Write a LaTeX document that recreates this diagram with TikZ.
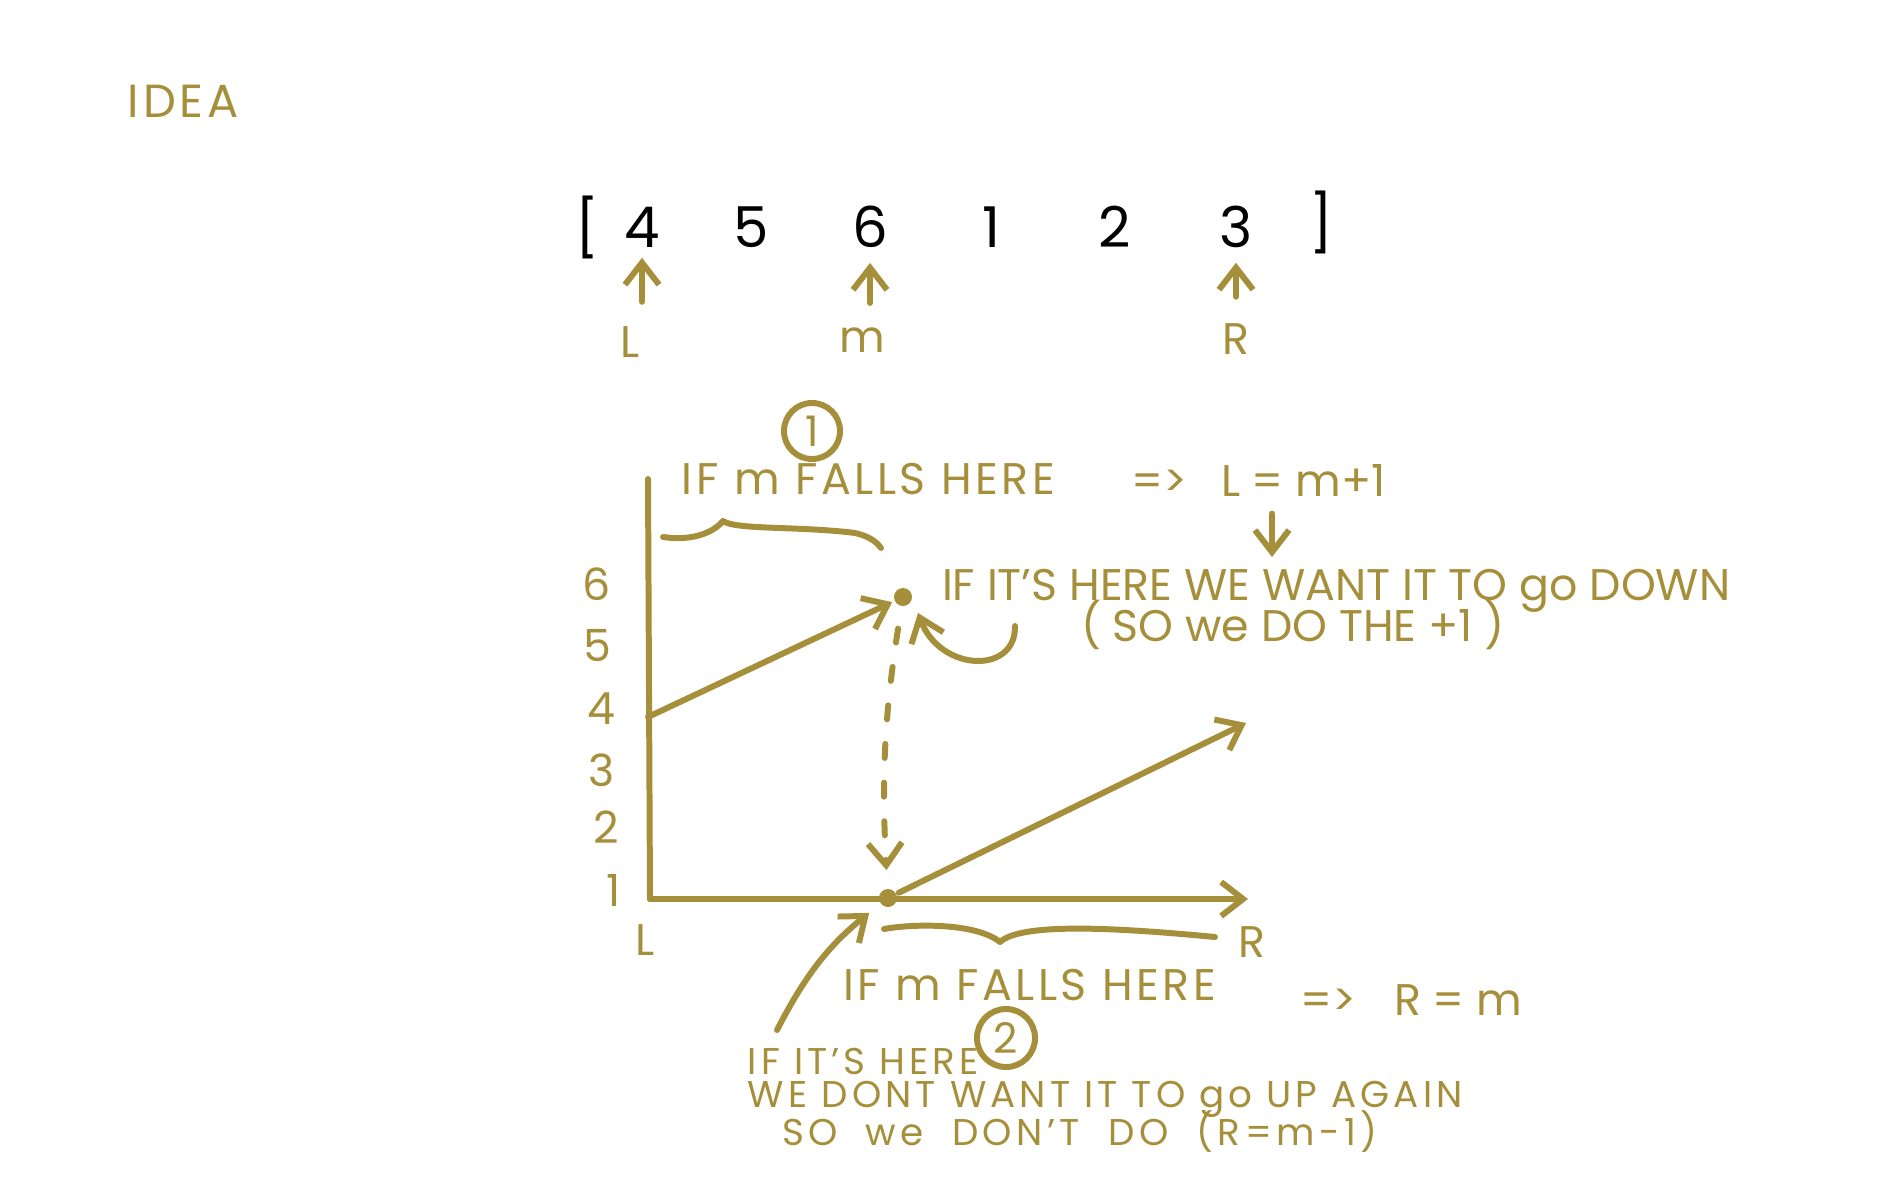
\documentclass[tikz,border=0pt]{standalone}
\usepackage{fontspec}
\setmainfont{Poppins}
\usetikzlibrary{
  arrows.meta,
  positioning,
  calc
}
\definecolor{pen}{RGB}{166,143,58}

\begin{document}
\begin{tikzpicture}[
      x=0.01cm, y=-0.01cm,
      line width=1.7pt, line cap=round, line join=round,
      >={Straight Barb[length=2.2mm,width=3.4mm]},
      note/.style={
         text=pen,
         inner sep=0pt,
         anchor=mid west,
         font=\fontsize{12.6}{15}\selectfont
      },
      spaced/.style={
         note,
         font=\fontsize{12.6}{15}\selectfont\addfontfeatures{LetterSpace=8}
      },
      small/.style={
         note,
         font=\fontsize{10.6}{13}\selectfont\addfontfeatures{LetterSpace=11}
      },
      entry/.style={
         text=black,
         inner sep=0pt,
         font=\fontsize{16}{19}\selectfont
      },
      tick/.style={note, anchor=mid},
      ink/.style={draw=pen},
      tip/.style={ink,->},
      blob/.style={circle, fill=pen, inner sep=0pt, minimum size=1.8mm},
      ring/.style={
         circle, draw=pen, inner sep=0pt, minimum size=5.6mm,
         text=pen, font=\fontsize{12}{14}\selectfont
      }
    ]
    \useasboundingbox (0,0) rectangle (1900,1200);

    \node (idea) [spaced, font=\fontsize{13.2}{15}\selectfont\addfontfeatures{LetterSpace=8}] at (125,108) {IDEA};

    % the array
    \node (open)  [entry] at (587,227) {[};
    \node (e1)    [entry] at (642,227) {4};
    \node (e2)    [entry] at (751,227) {5};
    \node (e3)    [entry] at (870,227) {6};
    \node (e4)    [entry] at (991,227) {1};
    \node (e5)    [entry] at (1115,227) {2};
    \node (e6)    [entry] at (1236,227) {3};
    \node (close) [entry] at (1321,222) {]};

    \node (left)  [tick] at (630,348) {L};
    \node (mid)   [tick] at (862,343) {m};
    \node (right) [tick] at (1236,345) {R};
    \draw[tip] (e1 |- left.north)  ++(0,-22) coordinate (lt) -- ++(0,-44);
    \draw[tip] (e3 |- mid.north)   ++(0,-22) coordinate (mt) -- ++(0,-40);
    \draw[tip] (e6 |- right.north) ++(0,-24) coordinate (rt) -- ++(0,-34);

    % the graph
    \coordinate (ytop) at (648,479);
    \coordinate (O)    at (650,899);
    \coordinate (xend) at (1248,899);
    \draw[ink] (ytop) -- (O);
    \draw[tip] (O) -- (xend);

    \node (y6) [tick] at (597,591) {6};
    \node (y5) [tick] at (597,652) {5};
    \node (y4) [tick] at (601,715) {4};
    \node (y3) [tick] at (602,777) {3};
    \node (y2) [tick] at (606,834) {2};
    \node (y1) [tick] at (614,897) {1};
    \node (xl) [tick] at (645,946) {L};
    \node (xr) [tick] at (1252,948) {R};

    \coordinate (p4) at (648,717);
    \node (peak) [blob] at (903,597) {};
    \node (low)  [blob] at (888,898) {};
    \coordinate (hi) at (1246,723);
    \draw[tip] (p4) -- (peak);
    \draw[tip] (low) -- (hi);
    \draw[tip, dash pattern=on 4pt off 7pt, shorten <=2mm, shorten >=1.6mm]
       (peak) to[bend right=6] (low);

    % case 1
    \node (one) [ring] at (812,431) {1};
    \node (t1) [spaced] at (679,485) {IF m FALLS HERE};
    \node (imp1) [note] at (1128,487) {=>};
    \node (rule1) [note] at (1218,487) {L = m+1};
    \coordinate (dn) at (1272,557);
    \draw[tip] (dn |- rule1.south) ++(0,14) -- (dn);
    \coordinate (b1l) at (663,537);
    \coordinate (b1t) at (723,521);
    \coordinate (b1r) at (881,548);
    \draw[ink] (b1l) .. controls (690,541) and (712,534) .. (b1t)
       .. controls (735,530) and (800,526) .. (855,533)
       .. controls (868,536) and (876,541) .. (b1r);

    \node (t2) [note] at (939,591) {IF IT'S HERE WE WANT IT TO go DOWN};
    \node (t3) [note] at (1078,632) {( SO we DO THE +1 )};
    \coordinate (c1) at (1015,626);
    \coordinate (c1end) at (918,613);
    \draw[tip] (c1) .. controls (1016,675) and (940,672) .. (c1end);

    % case 2
    \coordinate (b2l) at (884,929);
    \coordinate (b2t) at (1000,942);
    \coordinate (b2r) at (1215,937);
    \draw[ink] (b2l) .. controls (910,924) and (975,922) .. (b2t)
       .. controls (1020,924) and (1100,926) .. (b2r);

    \node (t4) [spaced] at (840,991) {IF m FALLS HERE};
    \node (imp2) [note] at (1297,1006) {=>};
    \node (rule2) [note] at (1391,1006) {R = m};
    \node (two) [ring, minimum size=5.8mm] at (1006,1038) {2};

    \coordinate (c2) at (777,1030);
    \draw[tip, shorten >=1.2mm] (c2) to[bend left=12] (low);

    \node (t5) [small] at (745,1065) {IF IT'S HERE};
    \node (t6) [small] at (745,1098) {WE DONT WANT IT TO go UP AGAIN};
    \node (t7) [small, font=\fontsize{10.6}{13}\selectfont\addfontfeatures{LetterSpace=12}]
       at (779,1136) {\spaceskip=8pt\relax SO we DON'T DO (R=m-1)};
\end{tikzpicture}
\end{document}
